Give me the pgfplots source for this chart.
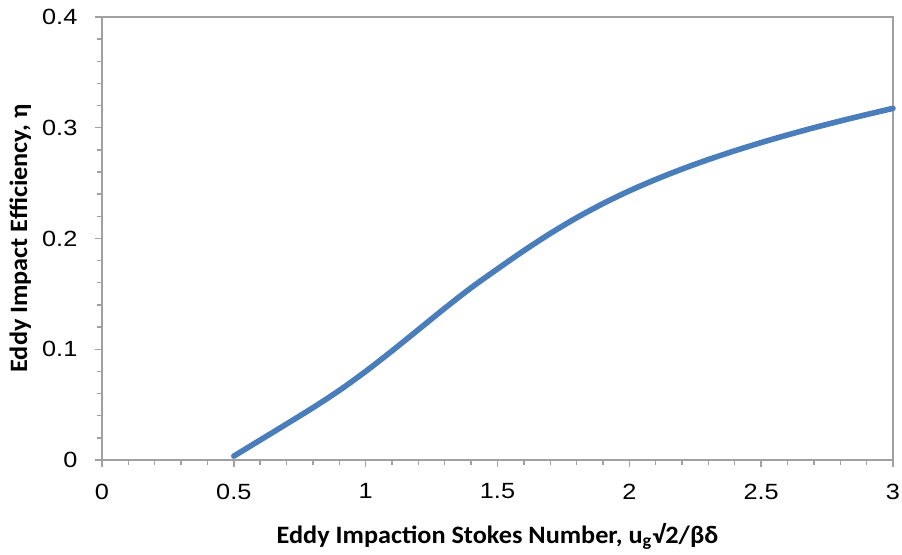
\documentclass[border=0pt]{standalone}
\usepackage{pgfplots}
\pgfplotsset{compat=1.18}
\usepackage{fontspec}
\setmainfont{Carlito}[FakeStretch=1.05]
\newfontfamily\tickfont{Liberation Sans}[FakeStretch=1.15]

\definecolor{curveblue}{HTML}{4A7EBB}
\definecolor{framegray}{HTML}{A0A0A0}

% eddy impact efficiency against the eddy impaction Stokes number
\pgfplotstableread{
x     eta
0.5   0.0035
0.6   0.0180
0.7   0.0325
0.8   0.0472
0.9   0.0628
1.0   0.0800
1.1   0.0985
1.2   0.1177
1.3   0.1370
1.4   0.1555
1.5   0.1725
1.6   0.1890
1.7   0.2045
1.8   0.2187
1.9   0.2315
2.0   0.2430
2.1   0.2533
2.2   0.2627
2.3   0.2713
2.4   0.2792
2.5   0.2866
2.6   0.2935
2.7   0.3000
2.8   0.3061
2.9   0.3119
3.0   0.3175
}\efficiency

\begin{document}
\begin{tikzpicture}
\useasboundingbox (-51pt,-47.5pt) rectangle (400pt,230pt);
\begin{axis}[
  scale only axis,
  width=395.5pt, height=221.5pt,
  xmin=0, xmax=3, ymin=0, ymax=0.4,
  xtick={0,0.5,...,3}, ytick={0,0.1,...,0.4},
  minor x tick num=4, minor y tick num=4,
  tick align=outside,
  xtick pos=bottom, ytick pos=left,
  major tick length=3.5pt, minor tick length=2.5pt,
  axis line style={framegray, line width=0.7pt},
  every tick/.style={framegray, line width=0.7pt},
  /pgf/number format/fixed,
  /pgf/number format/assume math mode=true,
  tick label style={font=\tickfont\fontsize{11}{13}\selectfont, black},
  xticklabel style={yshift=-4.8pt},
  yticklabel style={xshift=-5.3pt},
  label style={font=\bfseries\fontsize{12.5}{15}\selectfont},
  xlabel={Eddy Impaction Stokes Number, u\textsubscript{g}√2/βδ},
  ylabel={Eddy Impact Efficiency, η},
  xlabel style={at={(axis description cs:0.5,-0.1874)}, anchor=base},
  ylabel style={at={(axis description cs:-0.0948,0.5)}, anchor=base},
  clip=false,
]
\addplot[curveblue, line width=2.8pt, smooth, line cap=round] table[x=x, y=eta] {\efficiency};
\end{axis}
\end{tikzpicture}
\end{document}
